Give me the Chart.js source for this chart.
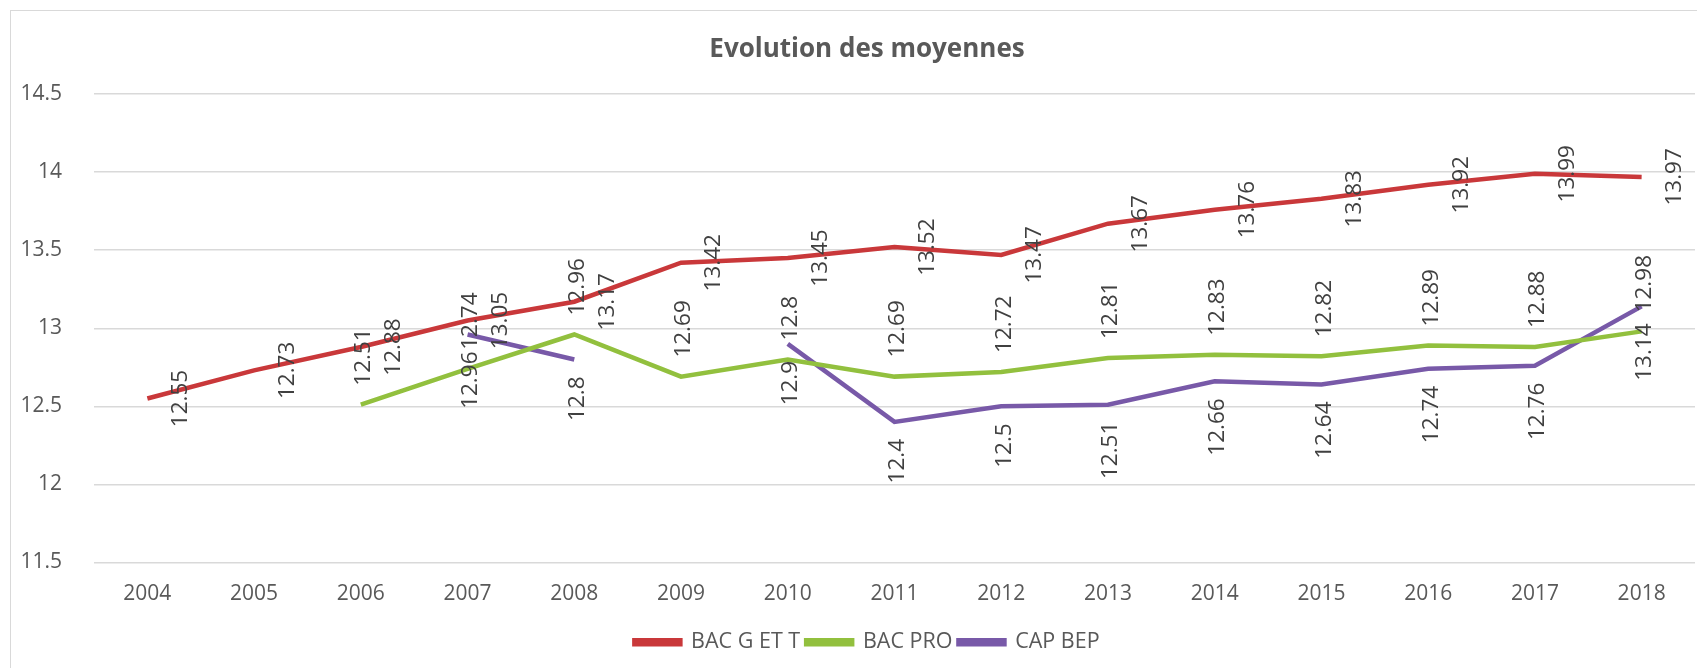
<!DOCTYPE html>
<html lang="fr">
<head>
    <meta charset="UTF-8">
    <title>Evolution des moyennes</title>
    <script src="https://cdn.jsdelivr.net/npm/chart.js"></script>
    <style>
        body {
            margin: 0;
            padding: 0;
            background: #ffffff;
            overflow: hidden;
        }

        .frame {
            position: absolute;
            left: 10px;
            top: 10px;
            width: 1700px;
            height: 680px;
            border: 1px solid #d9d9d9;
        }

        .chart-box {
            position: absolute;
            left: 0;
            top: 0;
            width: 1697px;
            height: 668px;
        }
    </style>
</head>
<body>
<div class="frame"></div>
<div class="chart-box">
    <canvas id="moyennes-chart"></canvas>
</div>

<script>
    const years = ['2004', '2005', '2006', '2007', '2008', '2009', '2010', '2011',
        '2012', '2013', '2014', '2015', '2016', '2017', '2018'];

    const bacGeneral = [12.55, 12.73, 12.88, 13.05, 13.17, 13.42, 13.45, 13.52,
        13.47, 13.67, 13.76, 13.83, 13.92, 13.99, 13.97];
    const bacPro = [null, null, 12.51, 12.74, 12.96, 12.69, 12.8, 12.69,
        12.72, 12.81, 12.83, 12.82, 12.89, 12.88, 12.98];
    const capBep = [null, null, null, 12.96, 12.8, null, 12.9, 12.4,
        12.5, 12.51, 12.66, 12.64, 12.74, 12.76, 13.14];

    const seriesNames = ['BAC G ET T', 'BAC PRO', 'CAP BEP'];
    const yTicks = [11.5, 12, 12.5, 13, 13.5, 14, 14.5];

    const FONT = '"Open Sans", sans-serif';

    // valeurs écrites à la verticale, comme dans Excel
    const rotatedLabels = {
        id: 'rotatedLabels',
        afterDatasetsDraw(chart) {
            const ctx = chart.ctx;
            ctx.save();
            ctx.font = '22.5px ' + FONT;
            ctx.fillStyle = '#404040';
            ctx.textBaseline = 'middle';
            ctx.textAlign = 'center';
            chart.data.datasets.forEach((ds, i) => {
                const meta = chart.getDatasetMeta(i);
                meta.data.forEach((pt, j) => {
                    const v = ds.data[j];
                    if (v === null || v === undefined) return;
                    const txt = String(v);
                    const w = ctx.measureText(txt).width;
                    let cx = pt.x + 3, cy = pt.y;
                    if (ds.labelPos === 'right') {
                        cx = pt.x + 33;
                    } else if (ds.labelPos === 'above') {
                        cy = pt.y - 19 - w / 2;
                    } else {
                        cy = pt.y + 17 + w / 2;
                    }
                    ctx.save();
                    ctx.translate(cx, cy);
                    ctx.rotate(-Math.PI / 2);
                    ctx.fillText(txt, 0, 0);
                    ctx.restore();
                });
            });
            ctx.restore();
        }
    };

    // étiquettes de l'axe Y dessinées à la main (sinon coupées par la marge)
    const yTickLabels = {
        id: 'yTickLabels',
        afterDraw(chart) {
            const ctx = chart.ctx;
            const y = chart.scales.y;
            ctx.save();
            ctx.font = '21px ' + FONT;
            ctx.fillStyle = '#595959';
            ctx.textAlign = 'right';
            ctx.textBaseline = 'middle';
            yTicks.forEach(v => {
                ctx.fillText(String(v), y.right - 32, y.getPixelForValue(v));
            });
            ctx.restore();
        }
    };

    function makeDataset(label, data, color, labelPos) {
        return {
            label: label,
            data: data,
            borderColor: color,
            backgroundColor: color,
            borderWidth: 4.5,
            pointRadius: 0,
            pointHoverRadius: 0,
            tension: 0,
            spanGaps: false,
            labelPos: labelPos
        };
    }

    function init() {
        const ctx = document.getElementById('moyennes-chart').getContext('2d');

        new Chart(ctx, {
            type: 'line',
            data: {
                labels: years,
                datasets: [
                    makeDataset(seriesNames[0], bacGeneral, '#c9383a', 'right'),
                    makeDataset(seriesNames[1], bacPro, '#92c03e', 'above'),
                    makeDataset(seriesNames[2], capBep, '#7859a8', 'below')
                ]
            },
            options: {
                responsive: true,
                maintainAspectRatio: false,
                animation: false,
                layout: {
                    padding: {left: 39, right: 2, top: 0, bottom: 5}
                },
                plugins: {
                    title: {
                        display: true,
                        text: 'Evolution des moyennes',
                        color: '#595959',
                        font: {family: FONT, size: 26, weight: 'bold'},
                        padding: {top: 34, bottom: 29}
                    },
                    legend: {
                        position: 'bottom',
                        labels: {
                            color: '#595959',
                            font: {family: FONT, size: 21.5},
                            boxWidth: 46,
                            boxHeight: 4,
                            padding: 6
                        }
                    },
                    tooltip: {enabled: false}
                },
                scales: {
                    x: {
                        offset: true,
                        grid: {display: false, drawTicks: false},
                        border: {display: false},
                        ticks: {
                            color: '#595959',
                            font: {family: FONT, size: 21},
                            padding: 19,
                            maxRotation: 0
                        }
                    },
                    y: {
                        min: 11.5,
                        max: 14.5,
                        afterBuildTicks: (scale) => {
                            scale.ticks = yTicks.map(v => ({value: v}));
                        },
                        afterFit: (scale) => {
                            scale.width = 55;
                        },
                        grid: {color: '#d9d9d9', lineWidth: 1.5, drawTicks: false},
                        border: {display: false},
                        ticks: {display: false}
                    }
                }
            },
            plugins: [rotatedLabels, yTickLabels]
        });
    }

    document.addEventListener('DOMContentLoaded', init);
</script>
</body>
</html>
